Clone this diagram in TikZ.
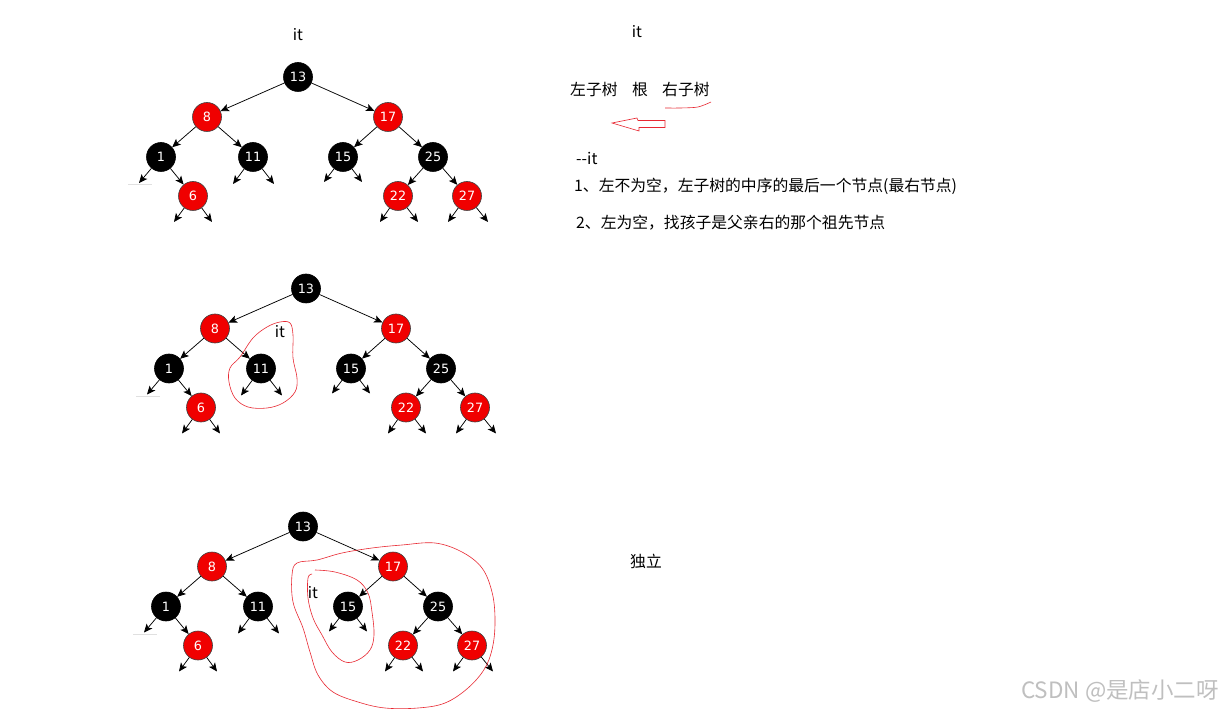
\documentclass[tikz,border=0pt]{standalone}
\usepackage{fontspec}
\setmainfont{Noto Sans CJK SC}
\newfontfamily\numfont{DejaVu Sans}
\usetikzlibrary{arrows.meta}
\definecolor{inkred}{RGB}{232,40,50}
\definecolor{nodered}{RGB}{240,0,0}
\newcommand\rbtree[3]{%
\begin{scope}[shift={(#2,#3)}]
\node[bn] (#1n13) at (298,77) {13};
\node[rn] (#1n8)  at (207,117) {8};
\node[rn] (#1n17) at (388,117) {17};
\node[bn] (#1n1)  at (161,157) {1};
\node[bn] (#1n11) at (253,157) {11};
\node[bn] (#1n15) at (343,157) {15};
\node[bn] (#1n25) at (433,157) {25};
\node[rn] (#1n6)  at (193,196) {6};
\node[rn] (#1n22) at (398,196) {22};
\node[rn] (#1n27) at (467,196) {27};
\coordinate (#1z1) at (139,183);
\coordinate (#1z6a) at (174,222);
\coordinate (#1z6b) at (212,222);
\coordinate (#1z11a) at (233,184);
\coordinate (#1z11b) at (274,184);
\coordinate (#1z15a) at (324,182);
\coordinate (#1z15b) at (362,182);
\coordinate (#1z22a) at (380,222);
\coordinate (#1z22b) at (418,222);
\coordinate (#1z27a) at (448,222);
\coordinate (#1z27b) at (488,222);
\draw[nilline] (128,184.5) -- (152,184.5);
\draw[edge] (#1n13) -- (#1n8);
\draw[edge] (#1n13) -- (#1n17);
\draw[edge] (#1n8) -- (#1n1);
\draw[edge] (#1n8) -- (#1n11);
\draw[edge] (#1n17) -- (#1n15);
\draw[edge] (#1n17) -- (#1n25);
\draw[edge] (#1n1) -- (#1n6);
\draw[edge] (#1n25) -- (#1n22);
\draw[edge] (#1n25) -- (#1n27);
\draw[edge] (#1n1) -- (#1z1);
\draw[edge] (#1n6) -- (#1z6a);
\draw[edge] (#1n6) -- (#1z6b);
\draw[edge] (#1n11) -- (#1z11a);
\draw[edge] (#1n11) -- (#1z11b);
\draw[edge] (#1n15) -- (#1z15a);
\draw[edge] (#1n15) -- (#1z15b);
\draw[edge] (#1n22) -- (#1z22a);
\draw[edge] (#1n22) -- (#1z22b);
\draw[edge] (#1n27) -- (#1z27a);
\draw[edge] (#1n27) -- (#1z27b);
\end{scope}}
\begin{document}
\begin{tikzpicture}[x=1pt,y=-1pt,
  bn/.style={circle, fill=black, draw=black, line width=0.6pt, minimum size=29pt, inner sep=0pt, text=white, font=\numfont\fontsize{12.8}{14}\selectfont},
  rn/.style={bn, fill=nodered, draw=black!75},
  edge/.style={draw=black, line width=0.75pt, -{Stealth[length=8.5pt,width=7.5pt,inset=2pt]}},
  nilline/.style={draw=black!12, line width=1pt},
  txt/.style={anchor=base west, inner sep=0pt, font=\fontsize{15.8}{18}\selectfont},
  itlabel/.style={anchor=base, inner sep=0pt, font=\fontsize{15.5}{18}\selectfont},
  redink/.style={draw=inkred, line width=0.6pt}
]
\useasboundingbox (0,0) rectangle (1224,711);
\fill[white] (0,0) rectangle (1224,711);

\rbtree{a}{0}{0}
\rbtree{b}{8}{211.5}
\rbtree{c}{5}{449.5}

% tree labels
\node[itlabel] (it1) at (298,41) {it};
\node[itlabel] (it2) at (280,338) {it};
\node[itlabel] (it3) at (313,598) {it};

% red loops
\draw[redink] plot[smooth cycle, tension=0.6] coordinates {(240,357) (253,338) (267,327) (280,322) (290,323) (293,335) (293,358) (297,378) (295,392) (283,403) (267,408) (248,407) (235,398) (229,382) (230,368)};
\draw[redink] plot[smooth, tension=0.6] coordinates {(315,570) (335,572) (357,580) (368,593) (372,612) (374,635) (370,650) (358,660) (345,662) (332,652) (322,635) (313,618) (308,598) (308,578) (312,574)};
\draw[redink] plot[smooth cycle, tension=0.6] coordinates {(297,563) (317,560) (342,553) (372,548) (402,545) (435,543) (462,552) (482,568) (492,592) (495,618) (493,645) (485,668) (468,688) (445,703) (418,708) (385,708) (358,702) (333,692) (318,675) (310,652) (303,628) (293,602) (292,575)};

% right-hand text
\node[itlabel] (itr) at (637,38) {it};
\node[txt] (lt) at (570,96) {左子树};
\node[txt] (rt) at (632,96) {根};
\node[txt] (rr) at (662,96) {右子树};
\draw[redink] plot[smooth, tension=0.5] coordinates {(665,108) (680,108) (698,107) (711,102)};
\draw[redink, line join=miter] (612,123) -- (637,118) -- (638,120.5) -- (665,120.5) -- (665,127.5) -- (639,127.5) -- (639,131) -- cycle;
\node[txt] (mm) at (576,165) {-{}-it};
\node[txt] (l1) at (574,192) {1、左不为空，左子树的中序的最后一个节点(最右节点)};
\node[txt] (l2) at (576,229) {2、左为空，找孩子是父亲右的那个祖先节点};
\node[txt] (dl) at (630,567) {独立};

% watermark
\node[anchor=base east, inner sep=0pt, text=black!25, font=\fontsize{22.5}{26}\selectfont] (wm) at (1219,698) {CSDN @是店小二呀};
\end{tikzpicture}
\end{document}
